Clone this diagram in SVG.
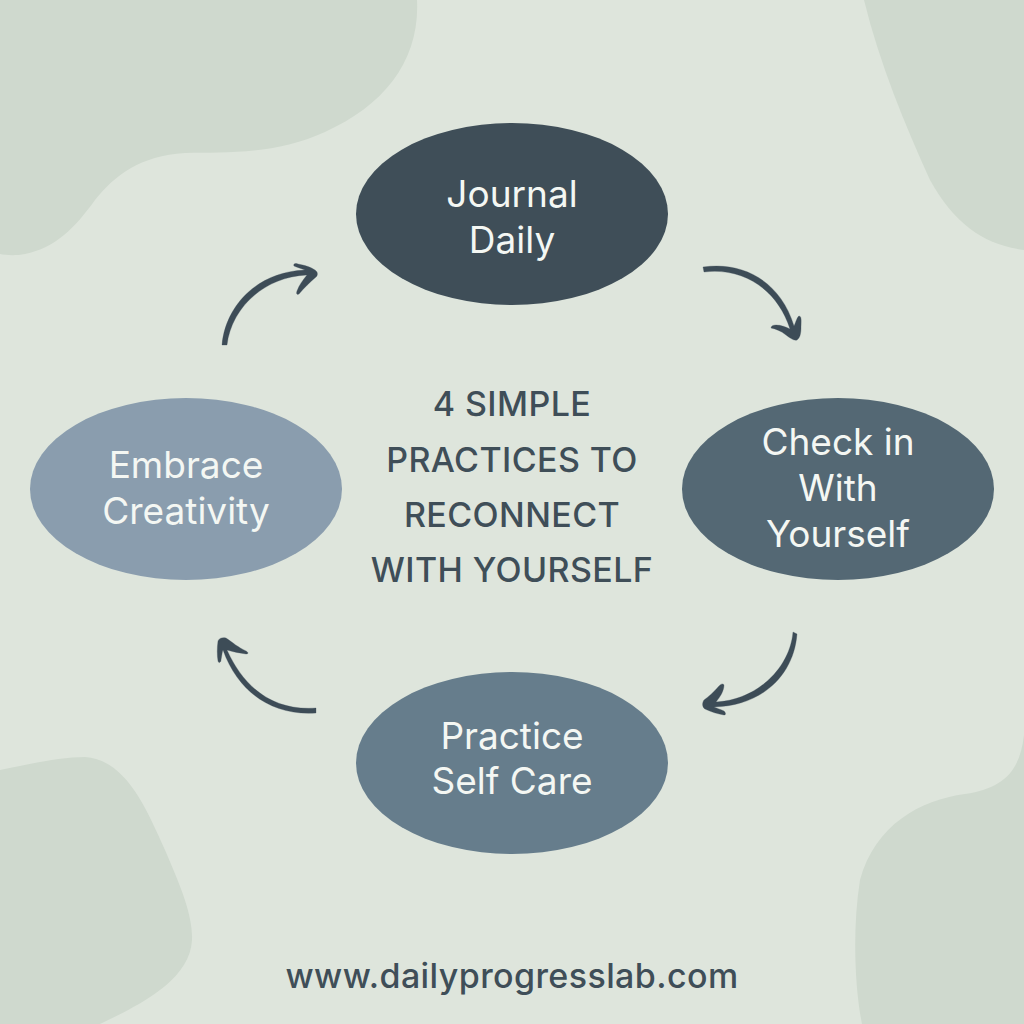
<svg xmlns="http://www.w3.org/2000/svg" width="1024" height="1024" viewBox="0 0 1024 1024">
<style>
.b{fill:#cfd9ce}
.n{font-family:Inter,"Liberation Sans",sans-serif;font-size:37px;fill:#f4f7f3;text-anchor:middle}
.t{font-family:Inter,"Liberation Sans",sans-serif;font-size:34px;font-weight:500;fill:#3f4e58;text-anchor:middle;letter-spacing:.4px}
.c{fill:#3d4c57;stroke:#3d4c57;stroke-width:.3;stroke-linejoin:round}
</style>
<rect width="1024" height="1024" fill="#dee5dc"/>
<path class="b" d="M0 0H417C420 60 385 105 325 132C275 155 225 152 185 153C140 156 115 175 95 200C75 228 55 248 25 254C15 256 5 255 0 254Z"/>
<path class="b" d="M864 0H1024V250C985 245 955 225 930 180C905 125 880 65 864 0Z"/>
<path class="b" d="M0 770C35 763 60 757 85 757C125 760 145 805 165 850C180 885 193 915 192 940C190 980 140 1005 100 1024H0Z"/>
<path class="b" d="M1024 735V1024H862C855 990 852 930 860 880C875 825 920 800 965 794C1005 788 1020 770 1024 735Z"/>
<g id="connectors">
<path class="c" d="M703 267C745 261 781 283 794 326C796 322 797 317 799 316C802 316 801 322 801 328C801 333 800 338 797 340C794 341 790 338 786 335C781 331 776 329 771 328C771 326 773 325 776 325C781 325 786 327 790 329C778 291 745 267 704 272Z"/>
<path class="c" d="M793 632C790 668 757 700 716 702C720 697 724 691 724 685C723 683 721 684 719 686C714 692 708 697 704 700C702 703 702 707 705 709C711 712 718 714 724 715C726 715 726 713 724 711C720 709 716 708 714 707C762 706 794 675 797 634Z"/>
<path class="c" d="M316 708C275 711 245 690 227 650C233 652 240 653 246 654C249 654 248 652 246 651C239 648 232 642 226 638C223 637 219 638 218 641C217 648 217 655 218 661C219 664 221 662 221 660C222 655 222 652 223 650C238 692 272 716 316 713Z"/>
<path class="c" d="M222 345C225 308 255 272 305 270C300 268 296 267 294 266C293 264 295 263 298 264C304 265 311 267 315 270C318 272 318 275 316 277C310 282 304 288 299 294C297 295 296 294 297 291C299 285 303 280 307 275C262 277 231 310 227 345Z"/>
</g>
<g id="journal"><ellipse cx="512" cy="214" rx="156" ry="91" fill="#3f4e58"/><text class="n" x="512" y="207">Journal</text><text class="n" x="512" y="253">Daily</text></g>
<g id="checkin"><ellipse cx="838" cy="489" rx="156" ry="91" fill="#546874"/><text class="n" x="838" y="455">Check in</text><text class="n" x="838" y="501">With</text><text class="n" x="838" y="547">Yourself</text></g>
<g id="selfcare"><ellipse cx="512" cy="763" rx="156" ry="91" fill="#667d8c"/><text class="n" x="512" y="749">Practice</text><text class="n" x="512" y="794">Self Care</text></g>
<g id="creativity"><ellipse cx="186" cy="489" rx="156" ry="91" fill="#8a9dae"/><text class="n" x="186" y="478">Embrace</text><text class="n" x="186" y="524">Creativity</text></g>
<g id="title"><text class="t" x="512" y="416">4 SIMPLE</text><text class="t" x="512" y="472">PRACTICES TO</text><text class="t" x="512" y="527">RECONNECT</text><text class="t" x="512" y="582">WITH YOURSELF</text></g>
<text x="512" y="988" style="font-family:Inter,'Liberation Sans',sans-serif;font-size:34px;font-weight:500;fill:#3f4e58;text-anchor:middle;letter-spacing:.4px">www.dailyprogresslab.com</text>
</svg>
